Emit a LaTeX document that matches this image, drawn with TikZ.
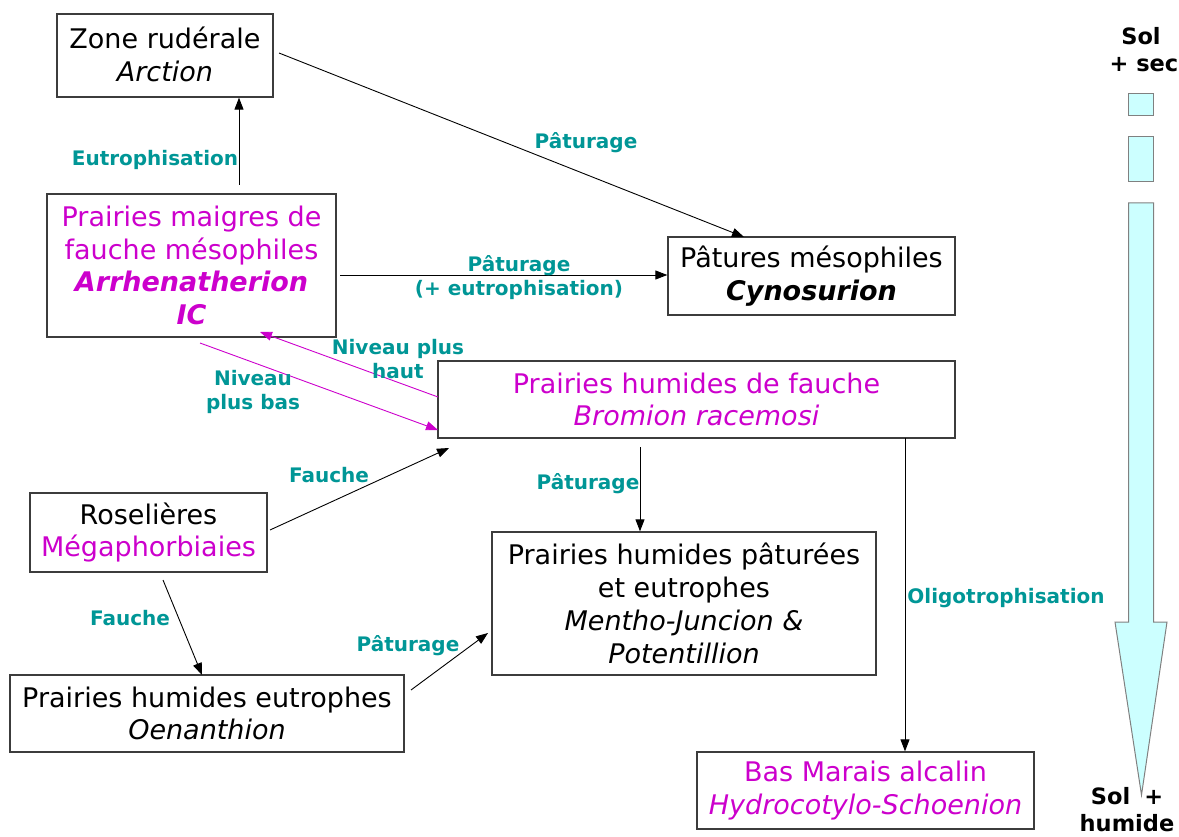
\documentclass[tikz,border=0pt]{standalone}
\usepackage{fontspec}
\setmainfont{DejaVu Sans}
\usetikzlibrary{arrows.meta}
\definecolor{teal1}{RGB}{0,150,150}
\definecolor{mag}{RGB}{204,0,204}
\definecolor{boxline}{RGB}{60,60,60}
\definecolor{cyanfill}{RGB}{204,255,255}
\tikzset{
  box/.style={draw=boxline,line width=1.3pt,inner sep=0pt,align=center,
    font=\fontsize{27}{32.8}\selectfont},
  lab/.style={text=teal1,font=\bfseries\fontsize{20}{24}\selectfont,align=center,inner sep=0pt},
  arr/.style={line width=0.9pt,-{Triangle[length=12pt,width=9pt]}},
  marr/.style={arr,draw=mag,color=mag},
  side/.style={font=\bfseries\fontsize{22.5}{27}\selectfont,align=center,inner sep=0pt}
}
\begin{document}
\begin{tikzpicture}[x=1pt,y=-1pt]
\useasboundingbox (0,0) rectangle (1179,837);
% boxes
\node[box,minimum width=216pt,minimum height=83pt] (b1) at (165,55.5) {\raisebox{3pt}{Zone rudérale}\\\raisebox{3pt}{\itshape Arction}};
\node[box,minimum width=289pt,minimum height=143pt,text=mag] (b2) at (191.5,265.5) {Prairies maigres de\\fauche mésophiles\\\bfseries\itshape Arrhenatherion\\\bfseries\itshape IC};
\node[box,minimum width=287pt,minimum height=78pt] (b3) at (811.5,276) {Pâtures mésophiles\\\bfseries\itshape Cynosurion};
\node[box,minimum width=517pt,minimum height=77pt,text=mag] (b4) at (696.5,399.5) {Prairies humides de fauche\\\itshape Bromion racemosi};
\node[box,minimum width=237pt,minimum height=79pt] (b5) at (148.5,532.5) {Roselières\\\textcolor{mag}{Mégaphorbiaies}};
\node[box,minimum width=384pt,minimum height=143pt] (b6) at (684,603.5) {Prairies humides pâturées\\et eutrophes\\\itshape Mentho-Juncion \&\\\itshape Potentillion};
\node[box,minimum width=394pt,minimum height=77pt] (b7) at (207,713.5) {Prairies humides eutrophes\\\itshape Oenanthion};
\node[box,minimum width=337pt,minimum height=77pt,text=mag] (b8) at (865.5,790.5) {Bas Marais alcalin\\\itshape Hydrocotylo-Schoenion};
% connector end points
\coordinate (e1) at (239,185);
\coordinate (p1a) at (279,53);
\coordinate (p1b) at (744,237);
\coordinate (p2a) at (340,275);
\coordinate (nh1) at (438,397);
\coordinate (nh2) at (260,332);
\coordinate (nb1) at (200,343);
\coordinate (nb2) at (438,430);
\coordinate (f1a) at (270,530);
\coordinate (f1b) at (449,448);
\coordinate (pa3) at (640,447);
\coordinate (f2a) at (163,580);
\coordinate (f2b) at (202,675);
\coordinate (p4a) at (411,690);
\coordinate (p4b) at (488,633);
\coordinate (o1) at (905,438);
% connectors
\draw[arr] (e1) -- (e1 |- b1.south);
\draw[arr] (p1a) -- (p1b);
\draw[arr] (p2a) -- (p2a -| b3.west);
\draw[marr] (nh1) -- (nh2);
\draw[marr] (nb1) -- (nb2);
\draw[arr] (f1a) -- (f1b);
\draw[arr] (pa3) -- (pa3 |- b6.north);
\draw[arr] (f2a) -- (f2b);
\draw[arr] (p4a) -- (p4b);
\draw[arr] (o1) -- (o1 |- b8.north);
% labels
\node[lab] (l1) at (155,160) {Eutrophisation};
\node[lab] (l2) at (586,143) {Pâturage};
\node[lab] (l3) at (519,278) {Pâturage\\(+ eutrophisation)};
\node[lab] (l4) at (398,359) {Niveau plus\\haut};
\node[lab] (l5) at (253,392) {Niveau\\plus bas};
\node[lab] (l6) at (329,475) {Fauche};
\node[lab] (l7) at (588,484) {Pâturage};
\node[lab] (l8) at (130,618) {Fauche};
\node[lab] (l9) at (408,646) {Pâturage};
\node[lab] (l10) at (1006,598) {Oligotrophisation};
% side gradient arrow
\node[side] (s1) at (1141,50) {Sol\\\hspace*{6pt}+ sec};
\node[draw=gray,fill=cyanfill,line width=1pt,minimum width=25pt,minimum height=22pt,inner sep=0pt] (r1) at (1141,105) {};
\node[draw=gray,fill=cyanfill,line width=1pt,minimum width=25pt,minimum height=45pt,inner sep=0pt] (r2) at (1141,159.5) {};
\draw[draw=gray,fill=cyanfill,line width=1pt] (1128.5,203) -- (1153.5,203) -- (1153.5,622) -- (1167,622) -- (1141.5,795) -- (1115,622) -- (1128.5,622) -- cycle;
\node[side] (s2) at (1127,810) {Sol\hspace{14pt}+\\humide};
\end{tikzpicture}
\end{document}
